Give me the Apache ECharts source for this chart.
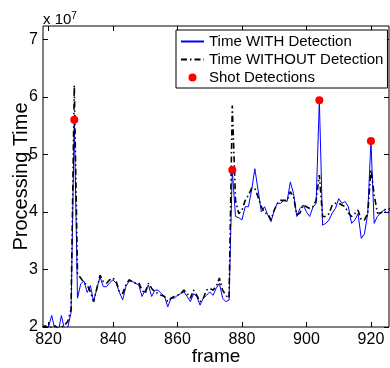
<!DOCTYPE html>
<html>
<head>
<meta charset="utf-8">
<script src="https://cdn.jsdelivr.net/npm/echarts@6/dist/echarts.min.js"></script>
<style>
  html, body { margin: 0; padding: 0; background: #fff; }
  #chart { width: 390px; height: 368px; }
</style>
</head>
<body>
<div id="chart"></div>
<script>
// frame numbers
const frames = [];
for (let f = 818; f <= 926; f++) frames.push(f);

// processing time (x 1e7), with shot detection
const timeWith = [
  1.95, 1.92, 2.00, 2.20, 1.95, 1.90, 2.20, 1.95, 2.00, 2.25,  // 818-827
  5.60, 2.50, 2.75, 2.80, 2.60, 2.72, 2.44, 2.67, 2.87, 2.70,  // 828-837
  2.70, 2.77, 2.82, 2.76, 2.60, 2.47, 2.70, 2.80, 2.79, 2.76,  // 838-847
  2.73, 2.53, 2.64, 2.73, 2.53, 2.64, 2.64, 2.58, 2.53, 2.35,  // 848-857
  2.50, 2.50, 2.55, 2.58, 2.61, 2.53, 2.44, 2.58, 2.53, 2.38,  // 858-867
  2.50, 2.55, 2.61, 2.55, 2.67, 2.76, 2.50, 2.44, 2.47, 4.73,  // 868-877
  3.92, 3.90, 3.86, 4.09, 4.09, 4.38, 4.75, 4.38, 4.00, 4.09,  // 878-887
  3.95, 3.83, 4.03, 4.15, 4.15, 4.20, 4.18, 4.52, 4.32, 3.92,  // 888-897
  4.06, 4.12, 4.00, 3.92, 4.08, 4.15, 5.94, 3.77, 3.80, 3.86,  // 898-907
  3.98, 4.06, 4.23, 4.15, 4.18, 4.09, 3.80, 3.86, 3.97, 3.54,  // 908-917
  3.62, 3.97, 5.23, 3.80, 3.92, 3.98, 4.03, 3.98, 4.03         // 918-926
];

// processing time (x 1e7), without shot detection
const timeWithout = [
  2.00, 2.02, 1.98, 2.00, 2.02, 1.97, 2.00, 2.03, 2.10, 2.30,  // 818-827
  6.20, 2.93, 2.85, 2.77, 2.73, 2.61, 2.44, 2.67, 2.90, 2.79,  // 828-837
  2.76, 2.82, 2.85, 2.79, 2.61, 2.58, 2.73, 2.82, 2.79, 2.76,  // 838-847
  2.77, 2.64, 2.58, 2.76, 2.67, 2.61, 2.58, 2.55, 2.53, 2.44,  // 848-857
  2.50, 2.53, 2.55, 2.58, 2.64, 2.58, 2.50, 2.64, 2.55, 2.44,  // 858-867
  2.50, 2.64, 2.67, 2.64, 2.70, 2.85, 2.64, 2.55, 2.50, 5.85,  // 868-877
  4.20, 3.97, 4.03, 4.20, 4.29, 4.41, 4.41, 4.26, 4.09, 3.98,  // 878-887
  3.97, 3.86, 4.03, 4.15, 4.20, 4.20, 4.20, 4.35, 4.26, 3.95,  // 888-897
  3.98, 4.12, 4.09, 4.06, 4.09, 4.20, 4.64, 3.92, 3.92, 3.97,  // 898-907
  4.12, 4.15, 4.15, 4.12, 4.09, 3.98, 3.92, 3.97, 4.03, 3.86,  // 908-917
  3.86, 3.97, 4.73, 4.30, 3.98, 3.98, 4.03, 4.06, 4.05         // 918-926
];

// detected shots
const shotFrames = [828, 877, 904, 920];
const shotValues = [5.60, 4.73, 5.94, 5.23];

const xTicks = [820, 840, 860, 880, 900, 920];
const yTicks = [2, 3, 4, 5, 6, 7];

const FONT = 'Liberation Sans, Arial, Helvetica, sans-serif';

const chart = echarts.init(document.getElementById('chart'));

const xBase = {
  type: 'value',
  min: 818.3,
  max: 925.6,
  splitNumber: 5,
  splitLine: { show: false },
  axisLine: { show: false },
  axisTick: {
    inside: true,
    length: 5,
    lineStyle: { color: '#000' },
    customValues: xTicks
  }
};
const yBase = {
  type: 'value',
  min: 2,
  max: 7.23,
  interval: 1,
  splitLine: { show: false },
  axisLine: { show: false },
  axisTick: {
    inside: true,
    length: 5,
    lineStyle: { color: '#000' },
    customValues: yTicks
  }
};

const option = {
  animation: false,
  title: {
    text: 'x 10{s|7}',
    left: 43,
    top: 11,
    padding: 0,
    textStyle: {
      fontFamily: FONT,
      fontSize: 15,
      fontWeight: 'normal',
      color: '#000',
      rich: { s: { fontFamily: FONT, fontSize: 10, color: '#000', verticalAlign: 'top', padding: [0, 0, 8, 0] } }
    }
  },
  grid: {
    left: 43, right: 1, top: 26, bottom: 41,
    show: true,
    borderColor: '#000',
    borderWidth: 1,
    outerBoundsMode: 'none'
  },
  legend: {
    orient: 'vertical',
    left: 176,
    top: 30,
    padding: [4, 4, 3, 4],
    itemGap: 3,
    itemWidth: 23,
    itemHeight: 8,
    borderColor: '#000',
    borderWidth: 1,
    backgroundColor: '#fff',
    textStyle: { fontFamily: FONT, fontSize: 15, color: '#000' },
    data: [
      { name: 'Time WITH Detection', itemStyle: { opacity: 0 } },
      { name: 'Time WITHOUT Detection', itemStyle: { opacity: 0 } },
      { name: 'Shot Detections', icon: 'circle' }
    ]
  },
  xAxis: [
    Object.assign({}, xBase, {
      position: 'bottom',
      name: 'frame',
      nameLocation: 'middle',
      nameGap: 20,
      nameMoveOverlap: false,
      nameTextStyle: { fontFamily: FONT, fontSize: 19, color: '#000' },
      axisLabel: {
        fontFamily: FONT, fontSize: 16, color: '#000', margin: 5,
        customValues: xTicks
      }
    }),
    Object.assign({}, xBase, { position: 'top', axisLabel: { show: false } })
  ],
  yAxis: [
    Object.assign({}, yBase, {
      position: 'left',
      name: 'Processing Time',
      nameLocation: 'middle',
      nameGap: 12,
      nameMoveOverlap: false,
      nameTextStyle: { fontFamily: FONT, fontSize: 20, color: '#000' },
      axisLabel: {
        fontFamily: FONT, fontSize: 16, color: '#000', margin: 5,
        customValues: yTicks
      }
    }),
    Object.assign({}, yBase, { position: 'right', axisLabel: { show: false } })
  ],
  series: [
    {
      name: 'Time WITH Detection',
      type: 'line',
      data: frames.map((f, i) => [f, timeWith[i]]),
      symbol: 'none',
      clip: true,
      lineStyle: { color: '#0000ff', width: 1 },
      itemStyle: { color: '#0000ff' },
      z: 2
    },
    {
      name: 'Time WITHOUT Detection',
      type: 'line',
      data: frames.map((f, i) => [f, timeWithout[i]]),
      symbol: 'none',
      clip: true,
      lineStyle: { color: '#000', width: 1.6, type: [6, 3, 1.5, 3] },
      itemStyle: { color: '#000' },
      z: 3
    },
    {
      name: 'Shot Detections',
      type: 'scatter',
      data: shotFrames.map((f, i) => [f, shotValues[i]]),
      symbol: 'circle',
      symbolSize: 8,
      itemStyle: { color: '#ff0000', opacity: 1 },
      z: 4
    }
  ]
};

chart.setOption(option);
</script>
</body>
</html>
